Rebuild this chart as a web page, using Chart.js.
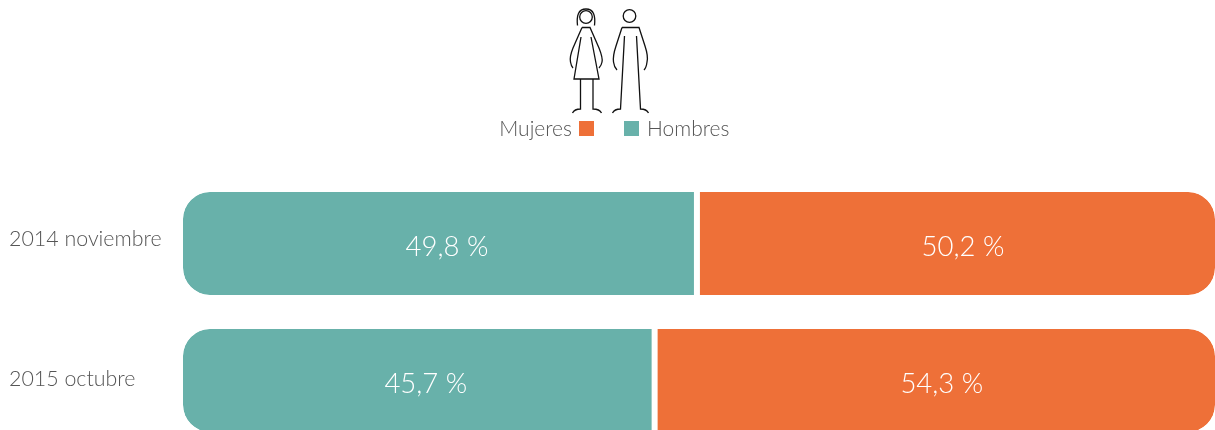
<!DOCTYPE html>
<html lang="es">
<head>
<meta charset="utf-8">
<title>Mujeres y hombres</title>
<script src="https://cdn.jsdelivr.net/npm/chart.js@4"></script>
<style>
  html, body { margin: 0; padding: 0; background: #fff; overflow: hidden; }
  #wrap { position: relative; width: 1215px; height: 430px; overflow: hidden; }
  #chart-box { position: absolute; left: 0; top: 0; width: 1215px; height: 461px; }
  #figures { position: absolute; left: 0; top: 0; }
  .leg { position: absolute; top: 114px; font: 300 21px Lato, sans-serif; color: #555; line-height: 28px; }
  .swatch { position: absolute; top: 120.500px; width: 15px; height: 15px; }
</style>
</head>
<body>
<div id="wrap">
  <div id="chart-box"><canvas id="myChart"></canvas></div>

  <svg id="figures" width="1215" height="120" fill="none" stroke="#111" stroke-width="1.3">
    <!-- mujer -->
    <circle cx="586" cy="17" r="6.300"/>
    <path d="M577.500 25.500 C576.500 16 578 9 586 9 C594 9 595.500 16 594.500 25.500"/>
    <path d="M582 27.500 H590 L599 48 C601 53 603 58 602 62 C601.500 65 600 67 599 68"/>
    <path d="M582 27.500 L573 48 C571 53 569.500 58 570.500 62 C571 65 572 67 573 68"/>
    <path d="M581 37 L574 79 H599 L591 37"/>
    <path d="M580.500 79 V109 C577 109 574 110 572.500 113"/>
    <path d="M593 79 V109 C596 109 600 110 601.500 113"/>
    <!-- hombre -->
    <circle cx="629.500" cy="16" r="6.300"/>
    <path d="M622 27.500 H639 L645 46 C647 52 648 58 647 62 C646.500 66 645 69 644 70"/>
    <path d="M622 27.500 L616 46 C614 52 613 58 613.500 62 C614 66 616 69 617 70"/>
    <path d="M624.500 36 L620.500 109 C617 109 614 110 612.500 113"/>
    <path d="M636.500 36 L640.500 109 C644 109 647 110 648.500 113"/>
  </svg>

  <div class="leg" id="leg-a" style="right:643px"></div>
  <div class="swatch" id="sw-a" style="left:579px"></div>
  <div class="swatch" id="sw-b" style="left:624px"></div>
  <div class="leg" id="leg-b" style="left:647px"></div>
</div>

<script>
// Datos
const categories = ['2014 noviembre', '2015 octubre'];
const hombres = [49.8, 45.7];
const mujeres = [50.2, 54.3];

const teal = '#68b1aa';
const orange = '#ee7038';

document.getElementById('leg-a').textContent = 'Mujeres';
document.getElementById('leg-b').textContent = 'Hombres';
document.getElementById('sw-a').style.background = orange;
document.getElementById('sw-b').style.background = teal;

// Etiquetas blancas dentro de las barras
const valueLabels = {
    id: 'valueLabels',
    afterDatasetsDraw(chart) {
        const ctx = chart.ctx;
        ctx.save();
        ctx.fillStyle = '#fff';
        ctx.font = '300 27.5px Lato, sans-serif';
        ctx.textAlign = 'center';
        ctx.textBaseline = 'middle';
        chart.data.datasets.forEach((ds, i) => {
            chart.getDatasetMeta(i).data.forEach((bar, j) => {
                let text = ds.data[j].toFixed(1).replace('.', ',') + ' %';
                ctx.fillText(text, (bar.x + bar.base) / 2 + 7, bar.y + 3.5);
            });
        });
        ctx.restore();
    }
};

const gap = 3;
const radius = 27;

new Chart(document.getElementById('myChart').getContext('2d'), {
    type: 'bar',
    data: {
        labels: categories,
        datasets: [
            {
                label: 'Hombres',
                data: hombres,
                backgroundColor: teal,
                borderColor: '#fff',
                borderWidth: { top: 0, bottom: 0, left: 0, right: gap },
                borderSkipped: false,
                borderRadius: { topLeft: radius, bottomLeft: radius, topRight: 0, bottomRight: 0 }
            },
            {
                label: 'Mujeres',
                data: mujeres,
                backgroundColor: orange,
                borderColor: '#fff',
                borderWidth: { top: 0, bottom: 0, left: gap, right: 0 },
                borderSkipped: false,
                borderRadius: { topLeft: 0, bottomLeft: 0, topRight: radius, bottomRight: radius }
            }
        ]
    },
    options: {
        indexAxis: 'y',
        responsive: true,
        maintainAspectRatio: false,
        animation: false,
        categoryPercentage: 1,
        barPercentage: 0.752,
        layout: { padding: { left: 9, top: 175, right: 0, bottom: 0 } },
        plugins: { legend: { display: false }, tooltip: { enabled: false } },
        scales: {
            x: { stacked: true, display: false, min: 0, max: 100 },
            y: {
                stacked: true,
                border: { display: false },
                grid: { display: false, drawTicks: false },
                afterFit(scale) { scale.width = 174; },
                ticks: {
                    crossAlign: 'far',
                    color: '#555',
                    // la linea vacia sube un poco cada etiqueta, como en el original
                    callback(value, index) { return [categories[index], '']; },
                    font(ctx) {
                        return {
                            family: 'Lato, sans-serif',
                            size: 21.4,
                            weight: '300',
                            lineHeight: ctx.index === 0 ? '9px' : '3px'
                        };
                    }
                }
            }
        }
    },
    plugins: [valueLabels]
});
</script>
</body>
</html>
